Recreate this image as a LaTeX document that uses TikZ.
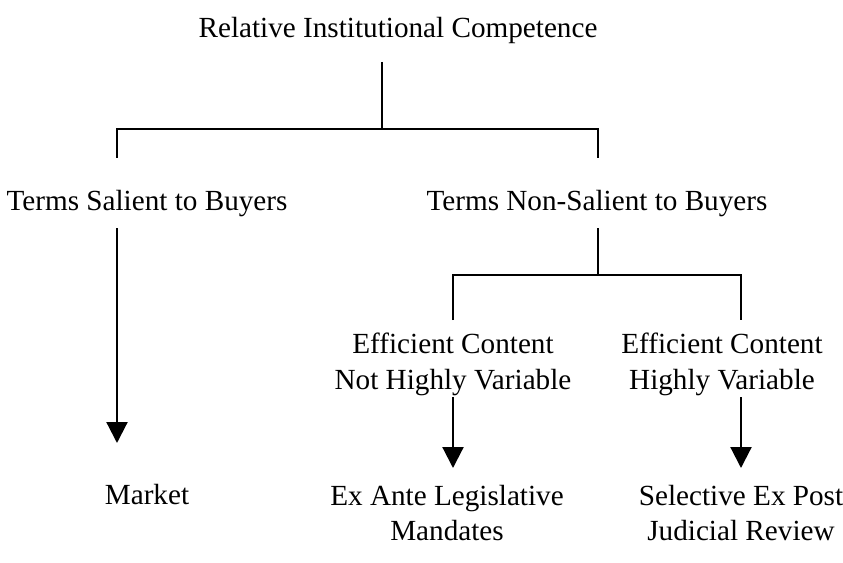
\documentclass[tikz,border=0pt]{standalone}
\usepackage{fontspec}
\setmainfont{Liberation Serif}
\usetikzlibrary{arrows.meta}
\begin{document}
\begin{tikzpicture}[x=1bp,y=-1bp,line width=2.2bp,
  lbl/.style={inner sep=0pt,align=center,font=\fontsize{29.3}{36}\selectfont},
  arr/.style={-{Triangle[width=21bp,length=21bp]}}]
\useasboundingbox (0,0) rectangle (843,563);
% text nodes
\node[lbl] (title) at (398,30) {Relative Institutional Competence};
\node[lbl] (salient) at (147,204) {Terms Salient to Buyers};
\node[lbl] (nonsal) at (597,204) {Terms Non-Salient to Buyers};
\node[lbl] (notvar) at (453,364) {Efficient Content\\Not Highly Variable};
\node[lbl] (var) at (722,364) {Efficient Content\\Highly Variable};
\node[lbl] (market) at (147,495) {Market};
\node[lbl] (exante) at (447,513) {Ex Ante Legislative\\Mandates};
\node[lbl] (expost) at (741,513) {Selective Ex Post\\Judicial Review};
% junction coordinates
\coordinate (t0) at (382,62);
\coordinate (t1) at (382,129);
\coordinate (tl) at (117,129);
\coordinate (tr) at (598,129);
\coordinate (tlb) at (117,158);
\coordinate (trb) at (598,158);
\coordinate (sa) at (117,228);
\coordinate (sb) at (117,443);
\coordinate (n0) at (598,228);
\coordinate (n1) at (598,275);
\coordinate (nl) at (453,275);
\coordinate (nr) at (741,275);
\coordinate (nlb) at (453,320);
\coordinate (nrb) at (741,320);
\coordinate (va) at (453,397);
\coordinate (vb) at (453,468);
\coordinate (wa) at (741,397);
\coordinate (wb) at (741,468);
% connectors
\draw (t0) -- (t1);
\draw (tlb) -- (tl) -- (tr) -- (trb);
\draw[arr] (sa) -- (sb);
\draw (n0) -- (n1);
\draw (nlb) -- (nl) -- (nr) -- (nrb);
\draw[arr] (va) -- (vb);
\draw[arr] (wa) -- (wb);
\end{tikzpicture}
\end{document}
